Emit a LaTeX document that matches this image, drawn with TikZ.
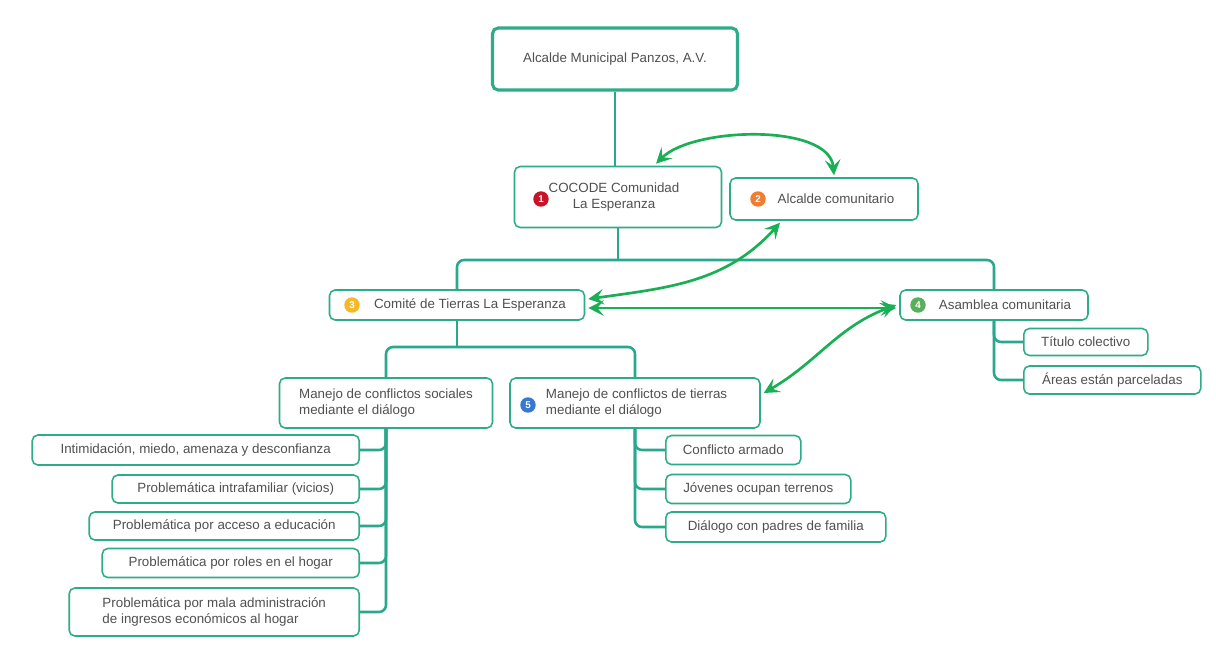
\documentclass[tikz,border=0pt]{standalone}
\usepackage{fontspec}
\setmainfont{Liberation Sans}
\usetikzlibrary{calc,arrows.meta}
\definecolor{boxline}{RGB}{45,172,135}
\definecolor{treeline}{RGB}{40,168,140}
\definecolor{arrgreen}{RGB}{25,175,85}
\definecolor{txtgray}{RGB}{80,80,80}
\definecolor{icred}{RGB}{200,20,40}
\definecolor{icorange}{RGB}{240,125,50}
\definecolor{icyellow}{RGB}{245,185,40}
\definecolor{icgreen}{RGB}{90,175,90}
\definecolor{icblue}{RGB}{55,120,210}
\begin{document}
\begin{tikzpicture}[x=0.025cm,y=-0.025cm,
  box/.style={draw=boxline,fill=white,line width=1.1pt,rounded corners=4pt,text=txtgray,font=\fontsize{9.5}{11.5}\selectfont,inner sep=2pt},
  sz/.style 2 args={minimum width=#1*0.025cm,minimum height=#2*0.025cm},
  icon/.style={circle,fill=#1,inner sep=0pt,minimum size=11pt,text=white,font=\fontsize{7}{7}\selectfont\bfseries},
  txt/.style={text=txtgray,font=\fontsize{9.5}{11.5}\selectfont,align=center},
  tree/.style={draw=treeline,line width=1.8pt,rounded corners=5pt},
  arr/.style={draw=arrgreen,line width=1.9pt,{Stealth[length=11pt,width=11pt,inset=4.5pt]}-{Stealth[length=11pt,width=11pt,inset=4.5pt]}}]
\fill[white] (0,0) rectangle (1216,645);
\useasboundingbox (0,0) rectangle (1216,645);
\node[box,sz={245}{62},line width=2.2pt] (mayor) at (615,59) {Alcalde Municipal Panzos, A.V.};
\node[box,sz={207}{61}] (cocode) at (618,197) {};
\node[icon=icred] (i1) at (541,199) {1};
\node[txt] (t1) at (614,197) {COCODE Comunidad\\La Esperanza};
\node[box,sz={188}{42}] (alcom) at (824,199) {};
\node[icon=icorange] (i2) at (758,199) {2};
\node[txt] (t2) at (836,199) {Alcalde comunitario};
\node[box,sz={255}{30}] (comite) at (457,305) {};
\node[icon=icyellow] (i3) at (352,305) {3};
\node[txt] (t3) at (470,305) {Comité de Tierras La Esperanza};
\node[box,sz={188}{30}] (asamb) at (994,305) {};
\node[icon=icgreen] (i4) at (918,305) {4};
\node[txt] (t4) at (1005,305) {Asamblea comunitaria};
\node[box,sz={124}{27},anchor=west] (titulo) at (1023,342) {Título colectivo};
\node[box,sz={177}{28},anchor=west] (areas) at (1023,380) {Áreas están parceladas};
\node[box,sz={213}{50},align=left] (social) at (386,403) {Manejo de conflictos sociales\\mediante el diálogo};
\node[box,sz={250}{50}] (tierra) at (635,403) {};
\node[icon=icblue] (i5) at (528,405) {5};
\node[txt,anchor=west,align=left] (t5) at (541,403) {Manejo de conflictos de tierras\\mediante el diálogo};
\node[box,sz={327}{30},anchor=east] (s1) at (360,450) {Intimidación, miedo, amenaza y desconfianza};
\node[box,sz={247}{28},anchor=east] (s2) at (360,489) {Problemática intrafamiliar (vicios)};
\node[box,sz={270}{28},anchor=east] (s3) at (360,526) {Problemática por acceso a educación};
\node[box,sz={257}{29},anchor=east] (s4) at (360,563) {Problemática por roles en el hogar};
\node[box,sz={290}{48},anchor=east,align=left] (s5) at (360,612) {Problemática por mala administración\\de ingresos económicos al hogar};
\node[box,sz={135}{29},anchor=west] (d1) at (665,450) {Conflicto armado};
\node[box,sz={185}{29},anchor=west] (d2) at (665,489) {Jóvenes ocupan terrenos};
\node[box,sz={220}{30},anchor=west] (d3) at (665,527) {Diálogo con padres de familia};
\coordinate (bus1) at (617,260);
\coordinate (bus2) at (458,347);
\draw[tree] (mayor.south) -- (mayor.south |- cocode.north);
\draw[tree] (cocode.south) -- (cocode.south |- bus1);
\draw[tree] (comite.north) -- (comite.north |- bus1) -- (asamb.north |- bus1) -- (asamb.north);
\draw[tree] (comite.south) -- (comite.south |- bus2);
\draw[tree] (social.north) -- (social.north |- bus2) -- (tierra.north |- bus2) -- (tierra.north);
\foreach \c in {s1,s2,s3,s4,s5} \draw[tree] (social.south) |- (\c.east);
\foreach \c in {d1,d2,d3} \draw[tree] (tierra.south) |- (\c.west);
\foreach \c in {titulo,areas} \draw[tree] (asamb.south) |- (\c.west);
\draw[arr] ($(cocode.north)+(38,-2)$) to[out=45,in=95,looseness=0.75] ($(alcom.north)+(10,-2)$);
\draw[arr] ($(alcom.south)+(-44,2)$) to[out=228,in=8] ($(comite.east)+(3,-6)$);
\draw[arr] ($(comite.east)+(3,3)$) -- ($(asamb.west)+(-3,3)$);
\draw[arr] ($(asamb.west)+(-3,0)$) to[out=200,in=30] ($(tierra.east)+(3,-10)$);
\end{tikzpicture}
\end{document}
